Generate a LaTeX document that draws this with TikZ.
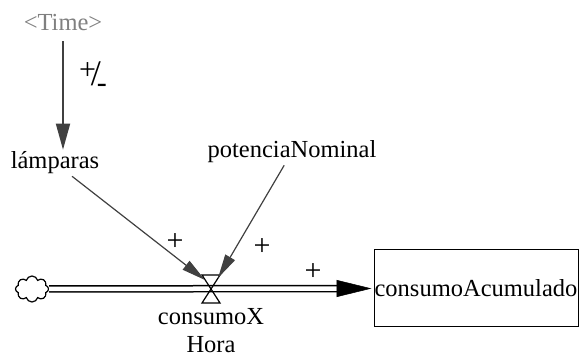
\documentclass[tikz,border=0pt]{standalone}
\usepackage{fontspec}
\setmainfont{Liberation Serif}
\usetikzlibrary{arrows.meta,positioning,shapes.symbols}

\begin{document}
\begin{tikzpicture}[x=1pt,y=1pt,
    every node/.style={font=\fontsize{24.5}{28}\selectfont,inner sep=2pt},
    infl/.style={draw=black!75,line width=1.2pt,-{Triangle[length=24pt,width=11pt]}},
    pipe/.style={double=white,double distance=4.5pt,line width=1.5pt},
    sign/.style={font=\fontsize{30}{30}\selectfont}]
    \useasboundingbox (0,0) rectangle (580,358);
    \node[text=black!50] (time) at (63,335) {<Time>};
    \node (lamp) at (55,195) {lámparas};
    \node (pot) at (292,206) {potenciaNominal};
    \node[draw,line width=1pt,minimum width=204pt,minimum height=77pt,inner sep=0pt] (stock) at (476,69.5) {consumoAcumulado};
    \node[cloud,draw,cloud puffs=8,aspect=1.3,minimum width=33pt,minimum height=26pt,inner sep=0pt,line width=1.2pt] (src) at (32,69) {};
    \coordinate (valve) at (211,69);
    \coordinate (vl) at ([shift={(-6,9)}]valve);
    \coordinate (vr) at ([shift={(7,11)}]valve);
    % flujo
    \draw[pipe] (src.east) -- ([xshift=-34pt]stock.west);
    \draw[line width=0.5pt,-{Triangle[length=35pt,width=17pt]}] ([xshift=-35pt]stock.west) -- ([xshift=-2pt]stock.west);
    \draw[line width=1.2pt] ([shift={(-9,14)}]valve) -- ([shift={(9,14)}]valve) -- ([shift={(-9,-14)}]valve) -- ([shift={(9,-14)}]valve) -- cycle;
    \node[align=center] (flowlbl) at (211,27) {consumoX\\Hora};
    % influencias
    \draw[infl,line width=1.8pt,-{Triangle[length=26pt,width=14pt]},shorten <=8pt] (time.south) -- (time.south |- lamp.north);
    \draw[infl] (lamp) -- (vl);
    \draw[infl] (pot) -- (vr);
    \node[sign] at (93,281) {\raisebox{6pt}{+}\kern-5pt\scalebox{1.2}{/}\kern-4pt\raisebox{-7pt}{-}};
    \node[sign] at (175,116) {+};
    \node[sign] at (262,111) {+};
    \node[sign] at (313,86) {+};
\end{tikzpicture}
\end{document}
